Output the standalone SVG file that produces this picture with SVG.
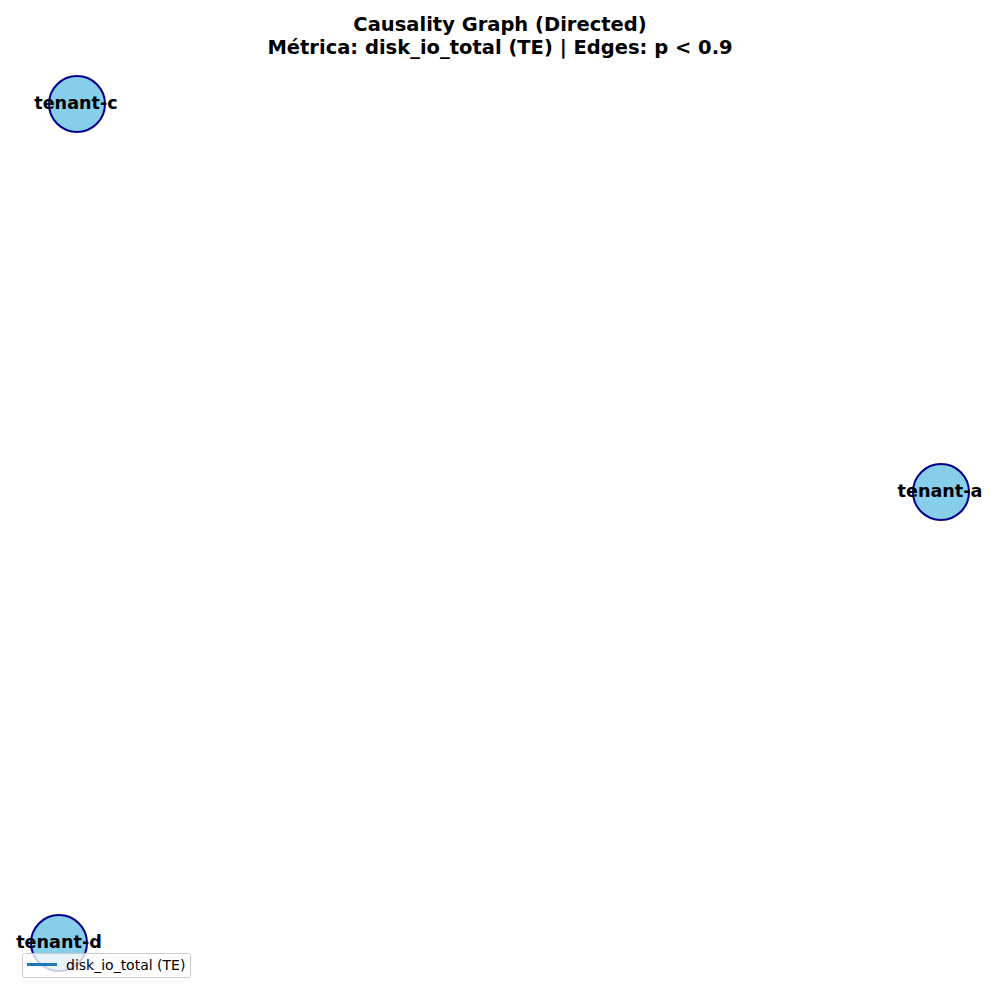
<svg xmlns="http://www.w3.org/2000/svg" width="1000" height="1000" viewBox="0 0 1000 1000">
<style>
.title{font-family:"DejaVu Sans",sans-serif;font-weight:bold;font-size:19.5px;text-anchor:middle;fill:#000}
.node circle{fill:#87ceeb;stroke:#00008b;stroke-width:2}
.node text{font-family:"DejaVu Sans",sans-serif;font-weight:bold;font-size:17.6px;text-anchor:middle;dominant-baseline:central;fill:#000}
.legend text{font-family:"DejaVu Sans",sans-serif;font-size:14px;fill:#000}
</style>
<rect width="1000" height="1000" fill="#fff"/>
<text class="title" x="500" y="31">Causality Graph (Directed)</text>
<text class="title" x="500" y="54">Métrica: disk_io_total (TE) | Edges: p &lt; 0.9</text>
<g id="connectors"></g>
<g id="tenant-c" class="node"><circle cx="77" cy="104" r="28"/><text x="76" y="103">tenant-c</text></g>
<g id="tenant-a" class="node"><circle cx="941" cy="492" r="28"/><text x="940" y="491">tenant-a</text></g>
<g id="tenant-d" class="node"><circle cx="59" cy="943" r="28"/><text x="59" y="942">tenant-d</text></g>
<g id="legend" class="legend">
<rect x="22.5" y="953.5" width="168" height="24" rx="2" fill="#fff" fill-opacity="0.8" stroke="#ccc" stroke-width="1"/>
<line x1="27" y1="964.5" x2="57" y2="964.5" stroke="#1f77b4" stroke-width="3"/>
<text x="66" y="970">disk_io_total (TE)</text>
</g>
</svg>
